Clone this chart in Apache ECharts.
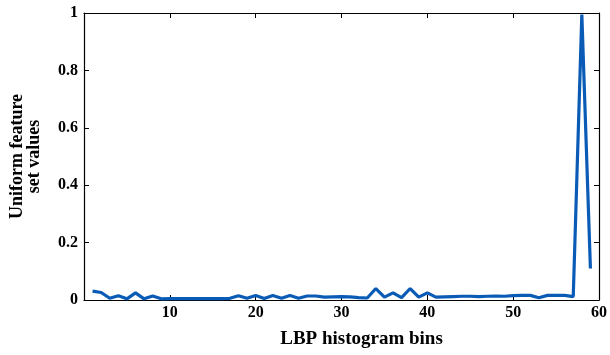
<!DOCTYPE html>
<html>
<head>
<meta charset="utf-8">
<script src="https://cdn.jsdelivr.net/npm/echarts@6/dist/echarts.min.js"></script>
<style>
  html, body { margin: 0; padding: 0; background: #fff; }
  #chart { width: 610px; height: 355px; }
</style>
</head>
<body>
<div id="chart"></div>
<script>
// LBP bins and uniform feature values
const bins = [1, 2, 3, 4, 5, 6, 7, 8, 9, 10, 11, 12, 13, 14, 15, 16, 17, 18, 19, 20,
  21, 22, 23, 24, 25, 26, 27, 28, 29, 30, 31, 32, 33, 34, 35, 36, 37, 38, 39, 40,
  41, 42, 43, 44, 45, 46, 47, 48, 49, 50, 51, 52, 53, 54, 55, 56, 57, 58, 59]
const values = [0.031, 0.026, 0.006, 0.015, 0.004, 0.025, 0.004, 0.014, 0.004, 0.005,
  0.005, 0.005, 0.005, 0.005, 0.005, 0.005, 0.006, 0.015, 0.006, 0.016,
  0.005, 0.016, 0.006, 0.016, 0.006, 0.014, 0.014, 0.010, 0.011, 0.012,
  0.011, 0.008, 0.007, 0.040, 0.010, 0.025, 0.008, 0.040, 0.010, 0.025,
  0.010, 0.011, 0.012, 0.013, 0.013, 0.012, 0.013, 0.014, 0.013, 0.015,
  0.016, 0.016, 0.008, 0.016, 0.016, 0.016, 0.012, 0.995, 0.110]
const xTitle = 'LBP histogram bins'
const yTitle = 'Uniform feature\nset values'

const font = 'Liberation Serif'
const axisLine = { show: true, onZero: false, lineStyle: { color: '#000', width: 1.2 } }
const tick = { show: true, inside: true, length: 5, lineStyle: { color: '#000', width: 1 } }

const myChart = echarts.init(document.getElementById('chart'))
myChart.setOption({
  animation: false,
  grid: { left: 84, right: 9, top: 13, bottom: 55 },
  xAxis: [
    {
      type: 'value',
      min: 0,
      max: 60,
      interval: 10,
      axisLine: axisLine,
      axisTick: tick,
      splitLine: { show: false },
      axisLabel: { showMinLabel: false, color: '#000', fontFamily: font, fontWeight: 'bold', fontSize: 16, margin: 5 },
      name: xTitle,
      nameLocation: 'middle',
      nameGap: 30,
      nameTextStyle: { color: '#000', fontFamily: font, fontWeight: 'bold', fontSize: 19, padding: [0, 0, 0, 40] }
    },
    {
      type: 'value',
      position: 'top',
      min: 0,
      max: 60,
      interval: 10,
      axisLine: axisLine,
      axisTick: tick,
      axisLabel: { show: false },
      splitLine: { show: false }
    }
  ],
  yAxis: [
    {
      type: 'value',
      min: 0,
      max: 1,
      interval: 0.2,
      axisLine: axisLine,
      axisTick: tick,
      splitLine: { show: false },
      axisLabel: { color: '#000', fontFamily: font, fontWeight: 'bold', fontSize: 16, margin: 6 },
      name: yTitle,
      nameLocation: 'middle',
      nameGap: 41,
      nameTextStyle: { color: '#000', fontFamily: font, fontWeight: 'bold', fontSize: 18, lineHeight: 17 }
    },
    {
      type: 'value',
      position: 'right',
      min: 0,
      max: 1,
      interval: 0.2,
      axisLine: axisLine,
      axisTick: tick,
      axisLabel: { show: false },
      splitLine: { show: false }
    }
  ],
  series: [
    {
      type: 'line',
      data: bins.map((b, i) => [b, values[i]]),
      symbol: 'none',
      lineStyle: { color: '#0a5bb5', width: 3.2 },
      clip: false
    }
  ]
})
</script>
</body>
</html>
